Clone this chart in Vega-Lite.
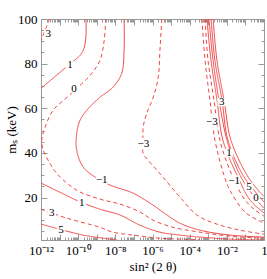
{
  "$schema": "https://vega.github.io/schema/vega-lite/v6.json",
  "width": 223,
  "height": 221,
  "autosize": {"type": "none"},
  "padding": {"left": 41, "top": 19, "right": 3, "bottom": 39},
  "background": "white",
  "config": {"view": {"stroke": null}, "font": "Liberation Serif"},
  "datasets": {
    "contours": [
      {"c": "A", "style": "dashed", "lx": -11.54, "y": 100},
      {"c": "A", "style": "dashed", "lx": -11.78, "y": 94.9},
      {"c": "A", "style": "dashed", "lx": -12, "y": 90.4},
      {"c": "B", "style": "solid", "lx": -9.58, "y": 100},
      {"c": "B", "style": "solid", "lx": -9.58, "y": 92.6},
      {"c": "B", "style": "solid", "lx": -9.69, "y": 86.8},
      {"c": "B", "style": "solid", "lx": -9.9, "y": 83.7},
      {"c": "B", "style": "solid", "lx": -10.33, "y": 80.6},
      {"c": "B", "style": "solid", "lx": -10.98, "y": 76.1},
      {"c": "B", "style": "solid", "lx": -12, "y": 68.9},
      {"c": "C", "style": "dashed", "lx": -8.52, "y": 100},
      {"c": "C", "style": "dashed", "lx": -8.6, "y": 90.4},
      {"c": "C", "style": "dashed", "lx": -8.83, "y": 81.4},
      {"c": "C", "style": "dashed", "lx": -9.36, "y": 74.7},
      {"c": "C", "style": "dashed", "lx": -9.9, "y": 70.3},
      {"c": "C", "style": "dashed", "lx": -10.6, "y": 64.9},
      {"c": "C", "style": "dashed", "lx": -11.35, "y": 59.1},
      {"c": "C", "style": "dashed", "lx": -11.78, "y": 51.5},
      {"c": "C", "style": "dashed", "lx": -11.96, "y": 45.7},
      {"c": "C", "style": "dashed", "lx": -11.88, "y": 41.2},
      {"c": "C", "style": "dashed", "lx": -11.52, "y": 35.4},
      {"c": "C", "style": "dashed", "lx": -11.16, "y": 30.9},
      {"c": "C", "style": "dashed", "lx": -10.08, "y": 23.3},
      {"c": "C", "style": "dashed", "lx": -8.83, "y": 19.3},
      {"c": "C", "style": "dashed", "lx": -7.75, "y": 17.1},
      {"c": "C", "style": "dashed", "lx": -6.67, "y": 13.5},
      {"c": "C", "style": "dashed", "lx": -5.97, "y": 9.9},
      {"c": "C", "style": "dashed", "lx": -4.9, "y": 6.7},
      {"c": "C", "style": "dashed", "lx": -3.44, "y": 4.5},
      {"c": "C", "style": "dashed", "lx": -1.83, "y": 2.7},
      {"c": "C", "style": "dashed", "lx": 0, "y": 1.8},
      {"c": "D", "style": "solid", "lx": -7.53, "y": 100},
      {"c": "D", "style": "solid", "lx": -7.53, "y": 85.9},
      {"c": "D", "style": "solid", "lx": -7.66, "y": 75.6},
      {"c": "D", "style": "solid", "lx": -8.13, "y": 69.4},
      {"c": "D", "style": "solid", "lx": -8.83, "y": 64.9},
      {"c": "D", "style": "solid", "lx": -9.54, "y": 59.1},
      {"c": "D", "style": "solid", "lx": -9.9, "y": 54.6},
      {"c": "D", "style": "solid", "lx": -10.08, "y": 48.8},
      {"c": "D", "style": "solid", "lx": -10.08, "y": 41.2},
      {"c": "D", "style": "solid", "lx": -9.72, "y": 33.6},
      {"c": "D", "style": "solid", "lx": -9.0, "y": 28.7},
      {"c": "D", "style": "solid", "lx": -8.29, "y": 25.6},
      {"c": "D", "style": "solid", "lx": -7.05, "y": 22.0},
      {"c": "D", "style": "solid", "lx": -5.97, "y": 16.6},
      {"c": "D", "style": "solid", "lx": -5.22, "y": 12.2},
      {"c": "D", "style": "solid", "lx": -4.52, "y": 8.5},
      {"c": "D", "style": "solid", "lx": -3.44, "y": 5.4},
      {"c": "D", "style": "solid", "lx": -1.83, "y": 3.2},
      {"c": "D", "style": "solid", "lx": 0, "y": 2.3},
      {"c": "E", "style": "solid", "lx": -12, "y": 26.5},
      {"c": "E", "style": "solid", "lx": -10.98, "y": 22.4},
      {"c": "E", "style": "solid", "lx": -9.9, "y": 18.1},
      {"c": "E", "style": "solid", "lx": -8.83, "y": 14.8},
      {"c": "E", "style": "solid", "lx": -7.75, "y": 12.2},
      {"c": "E", "style": "solid", "lx": -6.67, "y": 7.6},
      {"c": "E", "style": "solid", "lx": -5.6, "y": 4.5},
      {"c": "E", "style": "solid", "lx": -4.52, "y": 3.2},
      {"c": "E", "style": "solid", "lx": -3.44, "y": 2.3},
      {"c": "E", "style": "solid", "lx": -1.83, "y": 1.4},
      {"c": "E", "style": "solid", "lx": 0, "y": 1.0},
      {"c": "F", "style": "dashed", "lx": -12, "y": 14.8},
      {"c": "F", "style": "dashed", "lx": -10.62, "y": 10.8},
      {"c": "F", "style": "dashed", "lx": -8.83, "y": 6.7},
      {"c": "F", "style": "dashed", "lx": -8.13, "y": 4.5},
      {"c": "F", "style": "dashed", "lx": -7.05, "y": 3.2},
      {"c": "F", "style": "dashed", "lx": -5.6, "y": 1.8},
      {"c": "F", "style": "dashed", "lx": -3.44, "y": 1.2},
      {"c": "G", "style": "solid", "lx": -12, "y": 8.1},
      {"c": "G", "style": "solid", "lx": -10.89, "y": 5.6},
      {"c": "G", "style": "solid", "lx": -9.74, "y": 3.2},
      {"c": "G", "style": "solid", "lx": -7.91, "y": 1.0},
      {"c": "H", "style": "dashed", "lx": -5.5, "y": 100},
      {"c": "H", "style": "dashed", "lx": -5.6, "y": 85.9},
      {"c": "H", "style": "dashed", "lx": -5.69, "y": 74.0},
      {"c": "H", "style": "dashed", "lx": -5.96, "y": 65.0},
      {"c": "H", "style": "dashed", "lx": -6.31, "y": 57.8},
      {"c": "H", "style": "dashed", "lx": -6.5, "y": 51.6},
      {"c": "H", "style": "dashed", "lx": -6.51, "y": 44.2},
      {"c": "H", "style": "dashed", "lx": -6.51, "y": 39.9},
      {"c": "H", "style": "dashed", "lx": -6.24, "y": 36.8},
      {"c": "H", "style": "dashed", "lx": -5.44, "y": 29.2},
      {"c": "H", "style": "dashed", "lx": -4.52, "y": 20.2},
      {"c": "H", "style": "dashed", "lx": -3.61, "y": 12.2},
      {"c": "H", "style": "dashed", "lx": -2.53, "y": 8.1},
      {"c": "H", "style": "dashed", "lx": -1.29, "y": 5.4},
      {"c": "H", "style": "dashed", "lx": 0, "y": 3.6},
      {"c": "R1", "style": "dashed", "lx": -3.34, "y": 100},
      {"c": "R1", "style": "dashed", "lx": -3.17, "y": 81.4},
      {"c": "R1", "style": "dashed", "lx": -2.91, "y": 63.6},
      {"c": "R1", "style": "dashed", "lx": -2.64, "y": 45.7},
      {"c": "R1", "style": "dashed", "lx": -2.15, "y": 30.0},
      {"c": "R1", "style": "dashed", "lx": -1.83, "y": 23.3},
      {"c": "R1", "style": "dashed", "lx": -1.02, "y": 13.5},
      {"c": "R1", "style": "dashed", "lx": -0.11, "y": 9.0},
      {"c": "R1", "style": "dashed", "lx": 0, "y": 8.5},
      {"c": "R2", "style": "dashed", "lx": -3.17, "y": 100},
      {"c": "R2", "style": "dashed", "lx": -3.01, "y": 81.4},
      {"c": "R2", "style": "dashed", "lx": -2.69, "y": 63.6},
      {"c": "R2", "style": "dashed", "lx": -2.37, "y": 45.7},
      {"c": "R2", "style": "dashed", "lx": -1.72, "y": 30.0},
      {"c": "R2", "style": "dashed", "lx": -1.02, "y": 18.9},
      {"c": "R2", "style": "dashed", "lx": -0.48, "y": 14.4},
      {"c": "R2", "style": "dashed", "lx": 0, "y": 11.7},
      {"c": "R3", "style": "solid", "lx": -3.07, "y": 100},
      {"c": "R3", "style": "solid", "lx": -2.85, "y": 81.4},
      {"c": "R3", "style": "solid", "lx": -2.53, "y": 63.6},
      {"c": "R3", "style": "solid", "lx": -2.21, "y": 45.7},
      {"c": "R3", "style": "solid", "lx": -1.45, "y": 30.0},
      {"c": "R3", "style": "solid", "lx": -0.75, "y": 18.9},
      {"c": "R3", "style": "solid", "lx": 0, "y": 13.1},
      {"c": "R4", "style": "solid", "lx": -2.96, "y": 100},
      {"c": "R4", "style": "solid", "lx": -2.74, "y": 81.4},
      {"c": "R4", "style": "solid", "lx": -2.42, "y": 63.6},
      {"c": "R4", "style": "solid", "lx": -1.99, "y": 45.7},
      {"c": "R4", "style": "solid", "lx": -1.29, "y": 30.0},
      {"c": "R4", "style": "solid", "lx": -0.48, "y": 19.8},
      {"c": "R4", "style": "solid", "lx": 0, "y": 15.3},
      {"c": "R5", "style": "solid", "lx": -2.85, "y": 100},
      {"c": "R5", "style": "solid", "lx": -2.64, "y": 81.4},
      {"c": "R5", "style": "solid", "lx": -2.26, "y": 63.6},
      {"c": "R5", "style": "solid", "lx": -1.94, "y": 45.7},
      {"c": "R5", "style": "solid", "lx": -1.13, "y": 30.0},
      {"c": "R5", "style": "solid", "lx": -0.32, "y": 21.1},
      {"c": "R5", "style": "solid", "lx": 0, "y": 18.0},
      {"c": "R6", "style": "solid", "lx": -2.74, "y": 100},
      {"c": "R6", "style": "solid", "lx": -2.53, "y": 81.4},
      {"c": "R6", "style": "solid", "lx": -2.15, "y": 63.6},
      {"c": "R6", "style": "solid", "lx": -1.78, "y": 45.7},
      {"c": "R6", "style": "solid", "lx": -0.91, "y": 30.0},
      {"c": "R6", "style": "solid", "lx": -0.22, "y": 22.4},
      {"c": "R6", "style": "solid", "lx": 0, "y": 20.7}
    ],
    "labels": [
      {"label": "3", "lx": -11.61, "y": 93.4},
      {"label": "1", "lx": -10.44, "y": 79.2},
      {"label": "0", "lx": -10.22, "y": 68.8},
      {"label": "−1", "lx": -8.73, "y": 27.8},
      {"label": "1", "lx": -9.81, "y": 17.7},
      {"label": "3", "lx": -11.42, "y": 12.9},
      {"label": "5", "lx": -10.92, "y": 5.5},
      {"label": "−3", "lx": -6.49, "y": 44.2},
      {"label": "3", "lx": -2.28, "y": 62.8},
      {"label": "−3", "lx": -2.81, "y": 53.9},
      {"label": "1", "lx": -1.88, "y": 39.9},
      {"label": "−1", "lx": -1.61, "y": 27.4},
      {"label": "5", "lx": -0.81, "y": 24.7},
      {"label": "0", "lx": -0.43, "y": 19.8}
    ]
  },
  "layer": [
    {
      "data": {"name": "contours"},
      "mark": {"type": "line", "strokeWidth": 1, "color": "#f24646", "interpolate": "catmull-rom", "clip": true},
      "encoding": {
        "x": {
          "field": "lx", "type": "quantitative",
          "scale": {"domain": [-12, 0], "nice": false, "zero": false},
          "axis": {
            "orient": "bottom", "grid": false,
            "values": [-12,-11.699,-11.523,-11.398,-11.301,-11.222,-11.155,-11.097,-11.046,-11,-10.699,-10.523,-10.398,-10.301,-10.222,-10.155,-10.097,-10.046,-10,-9.699,-9.523,-9.398,-9.301,-9.222,-9.155,-9.097,-9.046,-9,-8.699,-8.523,-8.398,-8.301,-8.222,-8.155,-8.097,-8.046,-8,-7.699,-7.523,-7.398,-7.301,-7.222,-7.155,-7.097,-7.046,-7,-6.699,-6.523,-6.398,-6.301,-6.222,-6.155,-6.097,-6.046,-6,-5.699,-5.523,-5.398,-5.301,-5.222,-5.155,-5.097,-5.046,-5,-4.699,-4.523,-4.398,-4.301,-4.222,-4.155,-4.097,-4.046,-4,-3.699,-3.523,-3.398,-3.301,-3.222,-3.155,-3.097,-3.046,-3,-2.699,-2.523,-2.398,-2.301,-2.222,-2.155,-2.097,-2.046,-2,-1.699,-1.523,-1.398,-1.301,-1.222,-1.155,-1.097,-1.046,-1,-0.699,-0.523,-0.398,-0.301,-0.222,-0.155,-0.097,-0.046,0],
            "labelExpr": "datum.value==0?'1':datum.value==-2?'10⁻²':datum.value==-4?'10⁻⁴':datum.value==-6?'10⁻⁶':datum.value==-8?'10⁻⁸':datum.value==-10?'10⁻¹⁰':datum.value==-12?'10⁻¹²':''",
            "tickSize": {"condition": {"test": "datum.value == round(datum.value)", "value": -6}, "value": -3},
            "tickColor": "#999", "domainColor": "#999",
            "labelFontSize": 13, "labelColor": "black", "labelPadding": 10,
            "labelOverlap": false, "labelFlush": false, "labelBound": false,
            "title": "sin² (2 θ)", "titleFontSize": 13, "titleFontWeight": "normal", "titleColor": "black", "titlePadding": 0
          }
        },
        "y": {
          "field": "y", "type": "quantitative",
          "scale": {"domain": [1, 100], "nice": false, "zero": false},
          "axis": {
            "orient": "left", "grid": false,
            "values": [5,10,15,20,25,30,35,40,45,50,55,60,65,70,75,80,85,90,95,100],
            "labelExpr": "datum.value % 20 == 0 ? datum.value : ''",
            "tickSize": {"condition": {"test": "datum.value % 20 == 0", "value": -6}, "value": -3},
            "tickColor": "#999", "domainColor": "#999",
            "labelFontSize": 13, "labelColor": "black", "labelPadding": 10,
            "labelOverlap": false, "labelFlush": false, "labelBound": false,
            "title": "mₛ (keV)", "titleFontSize": 13, "titleFontWeight": "normal", "titleColor": "black", "titlePadding": -1
          }
        },
        "detail": {"field": "c", "type": "nominal"},
        "order": {"value": null},
        "strokeDash": {"field": "style", "type": "nominal", "scale": {"domain": ["solid", "dashed"], "range": [[1, 0], [4, 3]]}, "legend": null}
      }
    },
    {
      "data": {"name": "labels"},
      "mark": {"type": "point", "shape": "square", "filled": true, "color": "white", "opacity": 1},
      "encoding": {
        "x": {"field": "lx", "type": "quantitative",
          "axis": {"orient": "top", "grid": false, "labels": false, "title": null,
            "values": [-12,-11.699,-11.523,-11.398,-11.301,-11.222,-11.155,-11.097,-11.046,-11,-10.699,-10.523,-10.398,-10.301,-10.222,-10.155,-10.097,-10.046,-10,-9.699,-9.523,-9.398,-9.301,-9.222,-9.155,-9.097,-9.046,-9,-8.699,-8.523,-8.398,-8.301,-8.222,-8.155,-8.097,-8.046,-8,-7.699,-7.523,-7.398,-7.301,-7.222,-7.155,-7.097,-7.046,-7,-6.699,-6.523,-6.398,-6.301,-6.222,-6.155,-6.097,-6.046,-6,-5.699,-5.523,-5.398,-5.301,-5.222,-5.155,-5.097,-5.046,-5,-4.699,-4.523,-4.398,-4.301,-4.222,-4.155,-4.097,-4.046,-4,-3.699,-3.523,-3.398,-3.301,-3.222,-3.155,-3.097,-3.046,-3,-2.699,-2.523,-2.398,-2.301,-2.222,-2.155,-2.097,-2.046,-2,-1.699,-1.523,-1.398,-1.301,-1.222,-1.155,-1.097,-1.046,-1,-0.699,-0.523,-0.398,-0.301,-0.222,-0.155,-0.097,-0.046,0],
            "tickSize": {"condition": {"test": "datum.value == round(datum.value)", "value": -6}, "value": -3},
            "tickColor": "#999", "domainColor": "#999"}},
        "y": {"field": "y", "type": "quantitative",
          "axis": {"orient": "right", "grid": false, "labels": false, "title": null,
            "values": [5,10,15,20,25,30,35,40,45,50,55,60,65,70,75,80,85,90,95,100],
            "tickSize": {"condition": {"test": "datum.value % 20 == 0", "value": -6}, "value": -3},
            "tickColor": "#999", "domainColor": "#999"}},
        "size": {"condition": {"test": "length(datum.label) > 1", "value": 130}, "value": 70}
      }
    },
    {
      "data": {"name": "labels"},
      "mark": {"type": "text", "fontSize": 11, "color": "black", "font": "Liberation Serif"},
      "encoding": {
        "x": {"field": "lx", "type": "quantitative", "axis": null},
        "y": {"field": "y", "type": "quantitative", "axis": null},
        "text": {"field": "label"}
      }
    }
  ],
  "resolve": {"axis": {"x": "independent", "y": "independent"}}
}
